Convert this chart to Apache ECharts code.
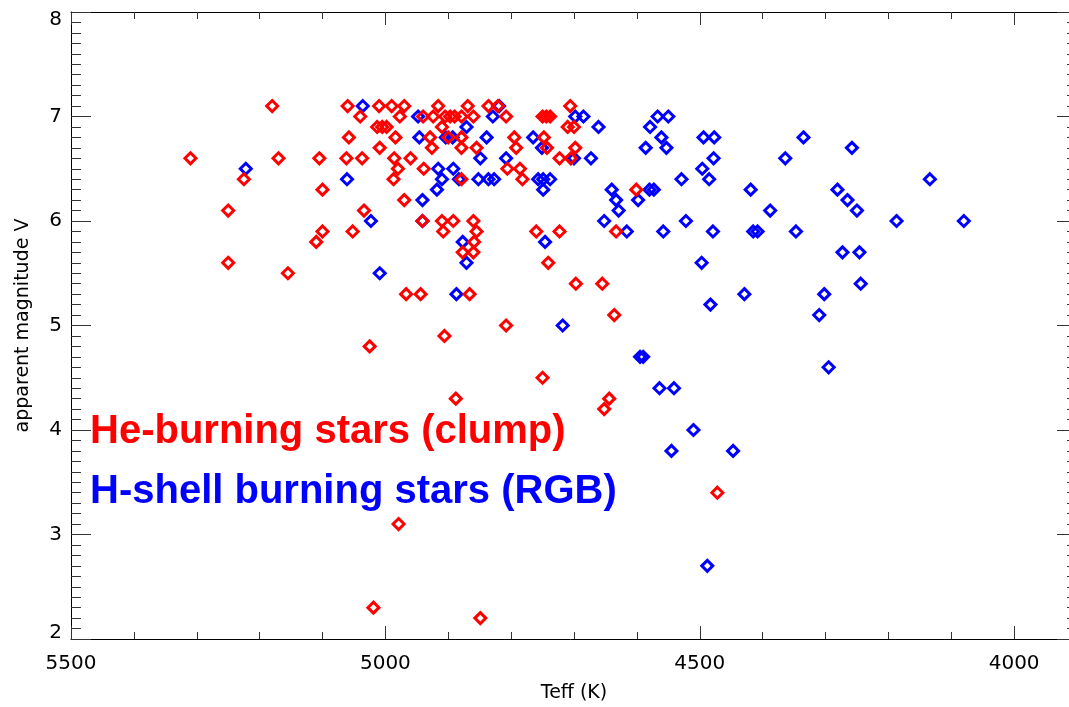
<!DOCTYPE html>
<html>
<head>
<meta charset="utf-8">
<script src="https://cdn.jsdelivr.net/npm/echarts@6/dist/echarts.min.js"></script>
<style>
  html, body { margin: 0; padding: 0; background: #fff; }
  #chart { width: 1069px; height: 707px; }
</style>
</head>
<body>
<div id="chart"></div>
<script>
// He-burning (clump) stars, red
var redTeff = [5310, 5180, 5225, 5170, 5105, 5100, 5250, 5250, 5155, 5100, 5110, 5060, 5040, 5010, 4990, 4970,
  4977, 4940, 5013, 5005, 4998, 5058, 4984, 5009, 5062, 5037, 4986, 4960, 4980, 4987, 4939, 4970, 5034, 4941,
  5052, 4967, 4944, 4866, 5025, 4906, 4888, 4979, 5019, 4849, 4916, 4869, 4836, 4821, 4706, 4924, 4905, 4897,
  4890, 4879, 4860, 4808, 4750, 4744, 4738, 4910, 4710, 4700, 4929, 4900, 4879, 4795, 4748, 4926, 4879, 4855,
  4792, 4743, 4698, 4723, 4705, 4806, 4786, 4879, 4782, 4601, 4910, 4892, 4860, 4908, 4855, 4760, 4723, 4633,
  4859, 4877, 4860, 4741, 4697, 4655, 4808, 4636, 4750, 4644, 4652, 4472];
var redMag = [6.6, 7.1, 6.4, 6.6, 6.6, 6.3, 6.1, 5.6, 5.5, 5.9, 5.8, 7.1, 7.0, 7.1, 7.1, 7.1,
  7.0, 7.0, 6.9, 6.9, 6.9, 6.8, 6.8, 6.7, 6.6, 6.6, 6.6, 6.6, 6.5, 6.4, 6.5, 6.2, 6.1, 6.0,
  5.9, 5.3, 5.3, 5.3, 4.8, 4.9, 4.3, 3.1, 2.3, 2.2, 7.1, 7.1, 7.1, 7.1, 7.1, 7.0, 7.0, 7.0,
  7.0, 7.0, 7.0, 7.0, 7.0, 7.0, 7.0, 6.9, 6.9, 6.9, 6.8, 6.8, 6.8, 6.8, 6.8, 6.7, 6.7, 6.7,
  6.7, 6.7, 6.7, 6.6, 6.6, 6.5, 6.5, 6.4, 6.4, 6.3, 6.0, 6.0, 6.0, 5.9, 5.9, 5.9, 5.9, 5.9,
  5.8, 5.7, 5.7, 5.6, 5.4, 5.4, 5.0, 5.1, 4.5, 4.3, 4.2, 3.4];

// H-shell burning (RGB) stars, blue
var blueTeff = [5222, 5036, 4948, 4946, 5061, 4941, 5023, 4941, 5009, 4887, 4819, 4829, 4698, 4685, 4871, 4661,
  4904, 4893, 4839, 4765, 4751, 4849, 4808, 4700, 4673, 4916, 4892, 4910, 4883, 4852, 4836, 4827, 4757, 4749,
  4738, 4918, 4749, 4640, 4580, 4573, 4633, 4598, 4629, 4652, 4616, 4558, 4877, 4746, 4871, 4567, 4550, 4579,
  4561, 4553, 4586, 4529, 4494, 4477, 4478, 4496, 4485, 4419, 4335, 4364, 4258, 4388, 4281, 4265, 4250, 4134,
  4522, 4479, 4415, 4408, 4347, 4187, 4080, 4497, 4273, 4246, 4244, 4429, 4302, 4483, 4718, 4595, 4590, 4564,
  4541, 4510, 4545, 4447, 4488, 4310, 4295];
var blueMag = [6.5, 7.1, 7.0, 6.8, 6.4, 6.2, 6.0, 6.0, 5.5, 5.3, 7.1, 7.0, 7.0, 7.0, 6.9, 6.9,
  6.8, 6.8, 6.8, 6.8, 6.7, 6.6, 6.6, 6.6, 6.6, 6.5, 6.5, 6.4, 6.4, 6.4, 6.4, 6.4, 6.4, 6.4,
  6.4, 6.3, 6.3, 6.3, 6.3, 6.3, 6.2, 6.2, 6.1, 6.0, 5.9, 5.9, 5.8, 5.8, 5.6, 7.0, 7.0, 6.9,
  6.8, 6.7, 6.7, 6.4, 6.8, 6.8, 6.6, 6.5, 6.4, 6.3, 6.8, 6.6, 6.7, 6.1, 6.3, 6.2, 6.1, 6.4,
  6.0, 5.9, 5.9, 5.9, 5.9, 6.0, 6.0, 5.6, 5.7, 5.7, 5.4, 5.3, 5.3, 5.2, 5.0, 4.7, 4.7, 4.4,
  4.4, 4.0, 3.8, 3.8, 2.7, 5.1, 4.6];

var xTicks = [4000, 4500, 5000, 5500];

function pairs(xs, ys) {
  var out = [];
  for (var i = 0; i < xs.length; i++) {
    out.push([xs[i], ys[i]]);
  }
  return out;
}

var chart = echarts.init(document.getElementById("chart"));

var lineStyle = { color: "#000", width: 1 };
var tickColor = "#333";

// x axis: main (labels + major ticks) and a helper one for the minor ticks, bottom and top
function xAxisFn(pos, major, showLine) {
  return {
    type: "value",
    position: pos,
    inverse: true,
    min: 3900,
    max: 5500,
    interval: major ? 500 : 100,
    axisLine: { show: showLine, onZero: false, lineStyle: lineStyle },
    axisTick: major ? {
      show: true, inside: true, length: 13, customValues: xTicks,
      lineStyle: { color: tickColor }
    } : {
      show: true, inside: true, length: 7, lineStyle: { color: tickColor }
    },
    axisLabel: (major && pos === "bottom") ? {
      show: true, customValues: xTicks, color: "#000", fontSize: 20,
      fontFamily: "DejaVu Sans", margin: 15,
      formatter: function(v) { return String(v); }
    } : { show: false },
    splitLine: { show: false }
  };
}

function yAxisFn(pos, major, showLine) {
  return {
    type: "value",
    position: pos,
    min: 2,
    max: 8,
    interval: major ? 1 : 0.1,
    axisLine: { show: showLine, onZero: false, lineStyle: lineStyle },
    axisTick: {
      show: true, inside: true, length: major ? 20 : 10,
      lineStyle: { color: tickColor }
    },
    axisLabel: (major && pos === "left") ? {
      show: true, color: "#000", fontSize: 20, fontFamily: "DejaVu Sans", margin: 9,
      // end labels sit a little inside the box, as in the original
      formatter: function(v) {
        if (v === 8) return "{top|8}";
        if (v === 2) return "{bot|2}";
        return String(v);
      },
      rich: {
        top: { fontSize: 20, fontFamily: "DejaVu Sans", color: "#000", padding: [15, 0, 0, 0] },
        bot: { fontSize: 20, fontFamily: "DejaVu Sans", color: "#000", padding: [0, 0, 12, 0] }
      }
    } : { show: false },
    splitLine: { show: false }
  };
}

var xMain = xAxisFn("bottom", true, true);
xMain.name = "Teff (K)";
xMain.nameLocation = "middle";
xMain.nameGap = 45;
xMain.nameTextStyle = { color: "#000", fontSize: 19, fontFamily: "DejaVu Sans" };

var yMain = yAxisFn("left", true, true);
yMain.name = "apparent magnitude V";
yMain.nameLocation = "middle";
yMain.nameGap = 38;
yMain.nameTextStyle = { color: "#000", fontSize: 19, fontFamily: "DejaVu Sans" };

var option = {
  animation: false,
  backgroundColor: "#fff",
  grid: {
    left: 71,
    right: -8,
    top: 12,
    bottom: 68,
    containLabel: false,
    outerBoundsMode: "none"
  },
  xAxis: [
    xMain,
    xAxisFn("bottom", false, false),
    xAxisFn("top", true, true),
    xAxisFn("top", false, false)
  ],
  yAxis: [
    yMain,
    yAxisFn("left", false, false),
    yAxisFn("right", true, true),
    yAxisFn("right", false, false)
  ],
  graphic: [{
    type: "text",
    left: 90,
    top: 412,
    silent: true,
    style: {
      text: "He-burning stars (clump)",
      fill: "#ff0000",
      font: "bold 40px 'Liberation Sans'"
    }
  }, {
    type: "text",
    left: 90,
    top: 472,
    silent: true,
    style: {
      text: "H-shell burning stars (RGB)",
      fill: "#0000ff",
      font: "bold 40px 'Liberation Sans'"
    }
  }],
  series: [{
    name: "RGB",
    type: "scatter",
    xAxisIndex: 0,
    yAxisIndex: 0,
    data: pairs(blueTeff, blueMag),
    symbol: "diamond",
    symbolSize: 11,
    itemStyle: { color: "rgba(255,255,255,0)", borderColor: "#0000ff", borderWidth: 3, opacity: 1 },
    emphasis: { disabled: true }
  }, {
    name: "clump",
    type: "scatter",
    xAxisIndex: 0,
    yAxisIndex: 0,
    data: pairs(redTeff, redMag),
    symbol: "diamond",
    symbolSize: 11,
    itemStyle: { color: "rgba(255,255,255,0)", borderColor: "#ff0000", borderWidth: 3, opacity: 1 },
    emphasis: { disabled: true }
  }]
};

chart.setOption(option);
</script>
</body>
</html>
